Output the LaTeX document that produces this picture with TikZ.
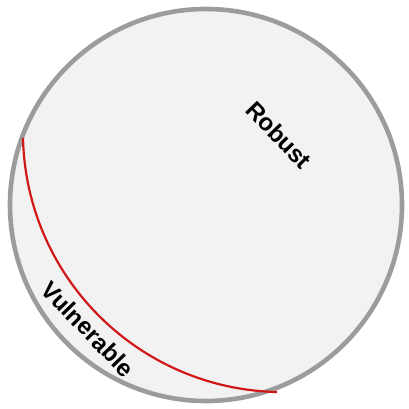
\documentclass[tikz,border=0pt]{standalone}
\usepackage{fontspec}
\newfontfamily\labelfont{Liberation Sans}[BoldFont={Liberation Sans Bold}]
\definecolor{ringgray}{HTML}{9C9C9C}
\definecolor{fillgray}{HTML}{F2F2F2}
\definecolor{arcred}{HTML}{D01818}
\newcommand{\lblfont}{\labelfont\bfseries\fontsize{24}{26}\selectfont}
\tikzset{
  ring/.style={draw=ringgray, fill=fillgray, line width=4.6pt},
  redarc/.style={draw=arcred, line width=2.2pt},
  lbl/.style={font=\lblfont, text=black, inner sep=0pt}
}
\begin{document}
\begin{tikzpicture}[x=1pt,y=1pt]
  \useasboundingbox (0,0) rectangle (408,409);
  \coordinate (c) at (206,204);
  \draw[ring] (c) circle[radius=196];
  \coordinate (rs) at (23,271);
  \draw[redarc] (rs) arc[start angle=181.3, end angle=268.7, radius=260];
  \node[lbl, rotate=-46] (robust) at (279,274) {Robust};
  \node[lbl, rotate=-46] (vulnerable) at (88,80) {Vulnerable};
\end{tikzpicture}
\end{document}
